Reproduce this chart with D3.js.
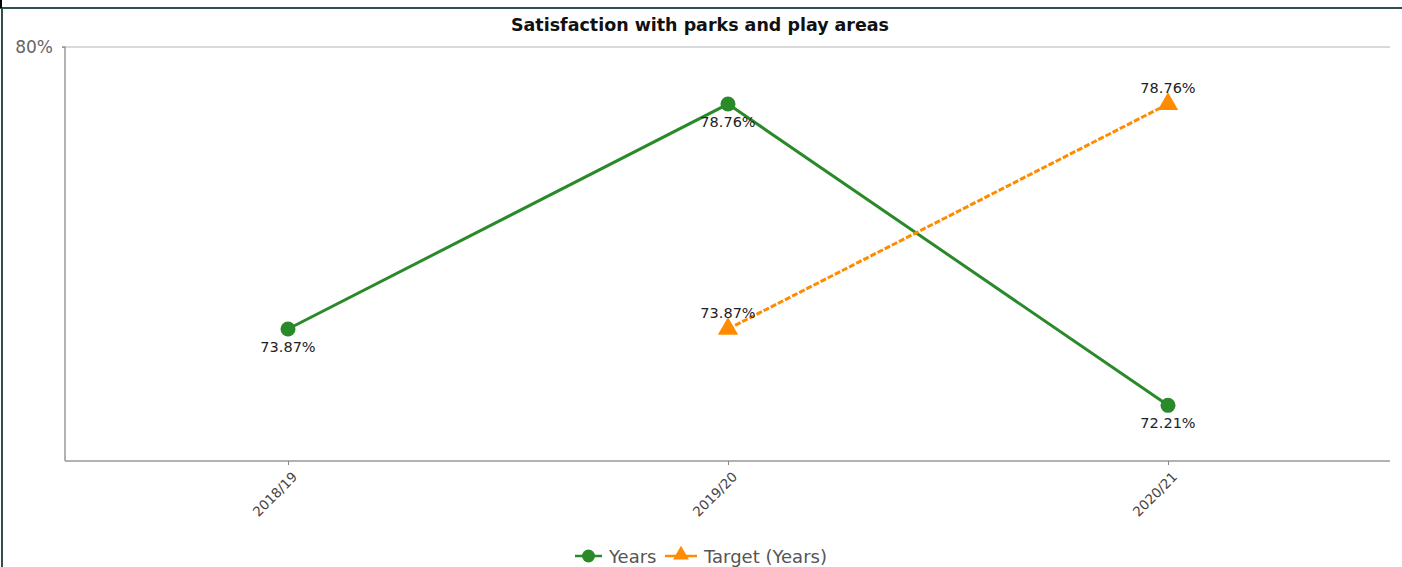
<!DOCTYPE html>
<html><head><meta charset="utf-8">
<script src="https://cdn.jsdelivr.net/npm/d3@7"></script>
<style>
html,body{margin:0;padding:0;background:#fff;}
svg{display:block;}
</style></head>
<body>
<svg id="chart" width="1402" height="567"></svg>
<script>
const title = "Satisfaction with parks and play areas";
const categories = ["2018/19", "2019/20", "2020/21"];
const yearsValues = [73.87, 78.76, 72.21];
const targetCategories = ["2019/20", "2020/21"];
const targetValues = [73.87, 78.76];
const yTicks = [80];
const legendLabels = ["Years", "Target (Years)"];

const svg = d3.select("#chart");
const W = 1402, H = 567;
const m = {left: 65, right: 1390, top: 47, bottom: 461};
const green = "#2a8a2a", orange = "#ff8c00";

// frame
svg.append("line").attr("x1",0).attr("x2",W).attr("y1",8).attr("y2",8)
  .attr("stroke","#2f4f4f").attr("stroke-width",2);
svg.append("line").attr("x1",2).attr("x2",2).attr("y1",8).attr("y2",H)
  .attr("stroke","#2f4f4f").attr("stroke-width",2);
svg.append("line").attr("x1",1).attr("x2",1).attr("y1",0).attr("y2",8)
  .attr("stroke","#000").attr("stroke-width",2);

svg.append("text").attr("x",700).attr("y",31).attr("text-anchor","middle")
  .attr("font-family","'DejaVu Sans', sans-serif").attr("font-weight","bold")
  .attr("font-size",17).attr("fill","#111")
  .attr("textLength",378).attr("lengthAdjust","spacingAndGlyphs").text(title);

const x = d3.scalePoint().domain(categories).range([288, 1168]);
const y = d3.scaleLinear().domain([71, 80]).range([m.bottom, m.top]);

// grid
svg.selectAll(".grid").data(yTicks).join("line")
  .attr("x1",m.left).attr("x2",m.right).attr("y1",d=>y(d)).attr("y2",d=>y(d))
  .attr("stroke","#cccccc").attr("stroke-width",1.5);

// y axis
const yAxis = svg.append("g").attr("transform",`translate(${m.left},0)`)
  .call(d3.axisLeft(y).tickValues(yTicks).tickSize(3).tickFormat(d=>d+"%"));
yAxis.select(".domain").attr("stroke","#999").attr("stroke-width",1.5).attr("d",`M-3,${m.top}H0V${m.bottom}`);
yAxis.selectAll(".tick line").attr("stroke","#999");
yAxis.selectAll(".tick text").attr("font-family","'DejaVu Sans', sans-serif")
  .attr("font-size",17).attr("fill","#666").attr("x",-12).attr("dy","0.3em");

// x axis
const xAxis = svg.append("g").attr("transform",`translate(0,${m.bottom})`)
  .call(d3.axisBottom(x).tickSize(4).tickSizeOuter(0));
xAxis.select(".domain").attr("stroke","#999").attr("stroke-width",1.5).attr("d",`M${m.left},0H${m.right}`);
xAxis.selectAll(".tick line").attr("stroke","#888");
xAxis.selectAll(".tick text").attr("font-family","'DejaVu Sans', sans-serif")
  .attr("font-size",13.5).attr("fill","#444")
  .attr("text-anchor","end").attr("transform","rotate(-45)")
  .attr("x",-5).attr("y",14).attr("dy","0.35em");

// lines
const line = d3.line().x(d=>x(d[0])).y(d=>y(d[1]));
const yData = categories.map((c,i)=>[c, yearsValues[i]]);
const tData = targetCategories.map((c,i)=>[c, targetValues[i]]);

svg.append("path").datum(yData).attr("d",line).attr("fill","none")
  .attr("stroke",green).attr("stroke-width",3);
svg.append("path").datum(tData).attr("d",line).attr("fill","none")
  .attr("stroke",orange).attr("stroke-width",3).attr("stroke-dasharray","6,2");

svg.selectAll(".gdot").data(yData).join("circle")
  .attr("cx",d=>x(d[0])).attr("cy",d=>y(d[1])).attr("r",7.5).attr("fill",green);
const tri = d3.symbol().type(d3.symbolTriangle).size(180);
svg.selectAll(".tri").data(tData).join("path")
  .attr("d",tri).attr("transform",d=>`translate(${x(d[0])},${y(d[1])})`).attr("fill",orange);

const lblFont = "'DejaVu Sans', sans-serif";
svg.selectAll(".glbl").data(yData).join("text")
  .attr("x",d=>x(d[0])).attr("y",d=>y(d[1])+23).attr("text-anchor","middle")
  .attr("font-family",lblFont).attr("font-size",14.5).attr("fill","#222")
  .text(d=>d[1].toFixed(2)+"%");
svg.selectAll(".tlbl").data(tData).join("text")
  .attr("x",d=>x(d[0])).attr("y",d=>y(d[1])-11).attr("text-anchor","middle")
  .attr("font-family",lblFont).attr("font-size",14.5).attr("fill","#222")
  .text(d=>d[1].toFixed(2)+"%");

// legend
const lg = svg.append("g");
lg.append("line").attr("x1",575).attr("x2",602).attr("y1",556).attr("y2",556).attr("stroke",green).attr("stroke-width",2.5);
lg.append("circle").attr("cx",588.5).attr("cy",556).attr("r",6.5).attr("fill",green);
lg.append("text").attr("x",609).attr("y",563).attr("font-family","'DejaVu Sans', sans-serif")
  .attr("font-size",18).attr("fill","#555").text(legendLabels[0]);
lg.append("line").attr("x1",665).attr("x2",697).attr("y1",556).attr("y2",556).attr("stroke",orange).attr("stroke-width",2.5);
lg.append("path").attr("d",d3.symbol().type(d3.symbolTriangle).size(110)).attr("transform","translate(681,555)").attr("fill",orange);
lg.append("text").attr("x",704).attr("y",563).attr("font-family","'DejaVu Sans', sans-serif")
  .attr("font-size",18).attr("fill","#555").text(legendLabels[1]);
</script>
</body></html>
